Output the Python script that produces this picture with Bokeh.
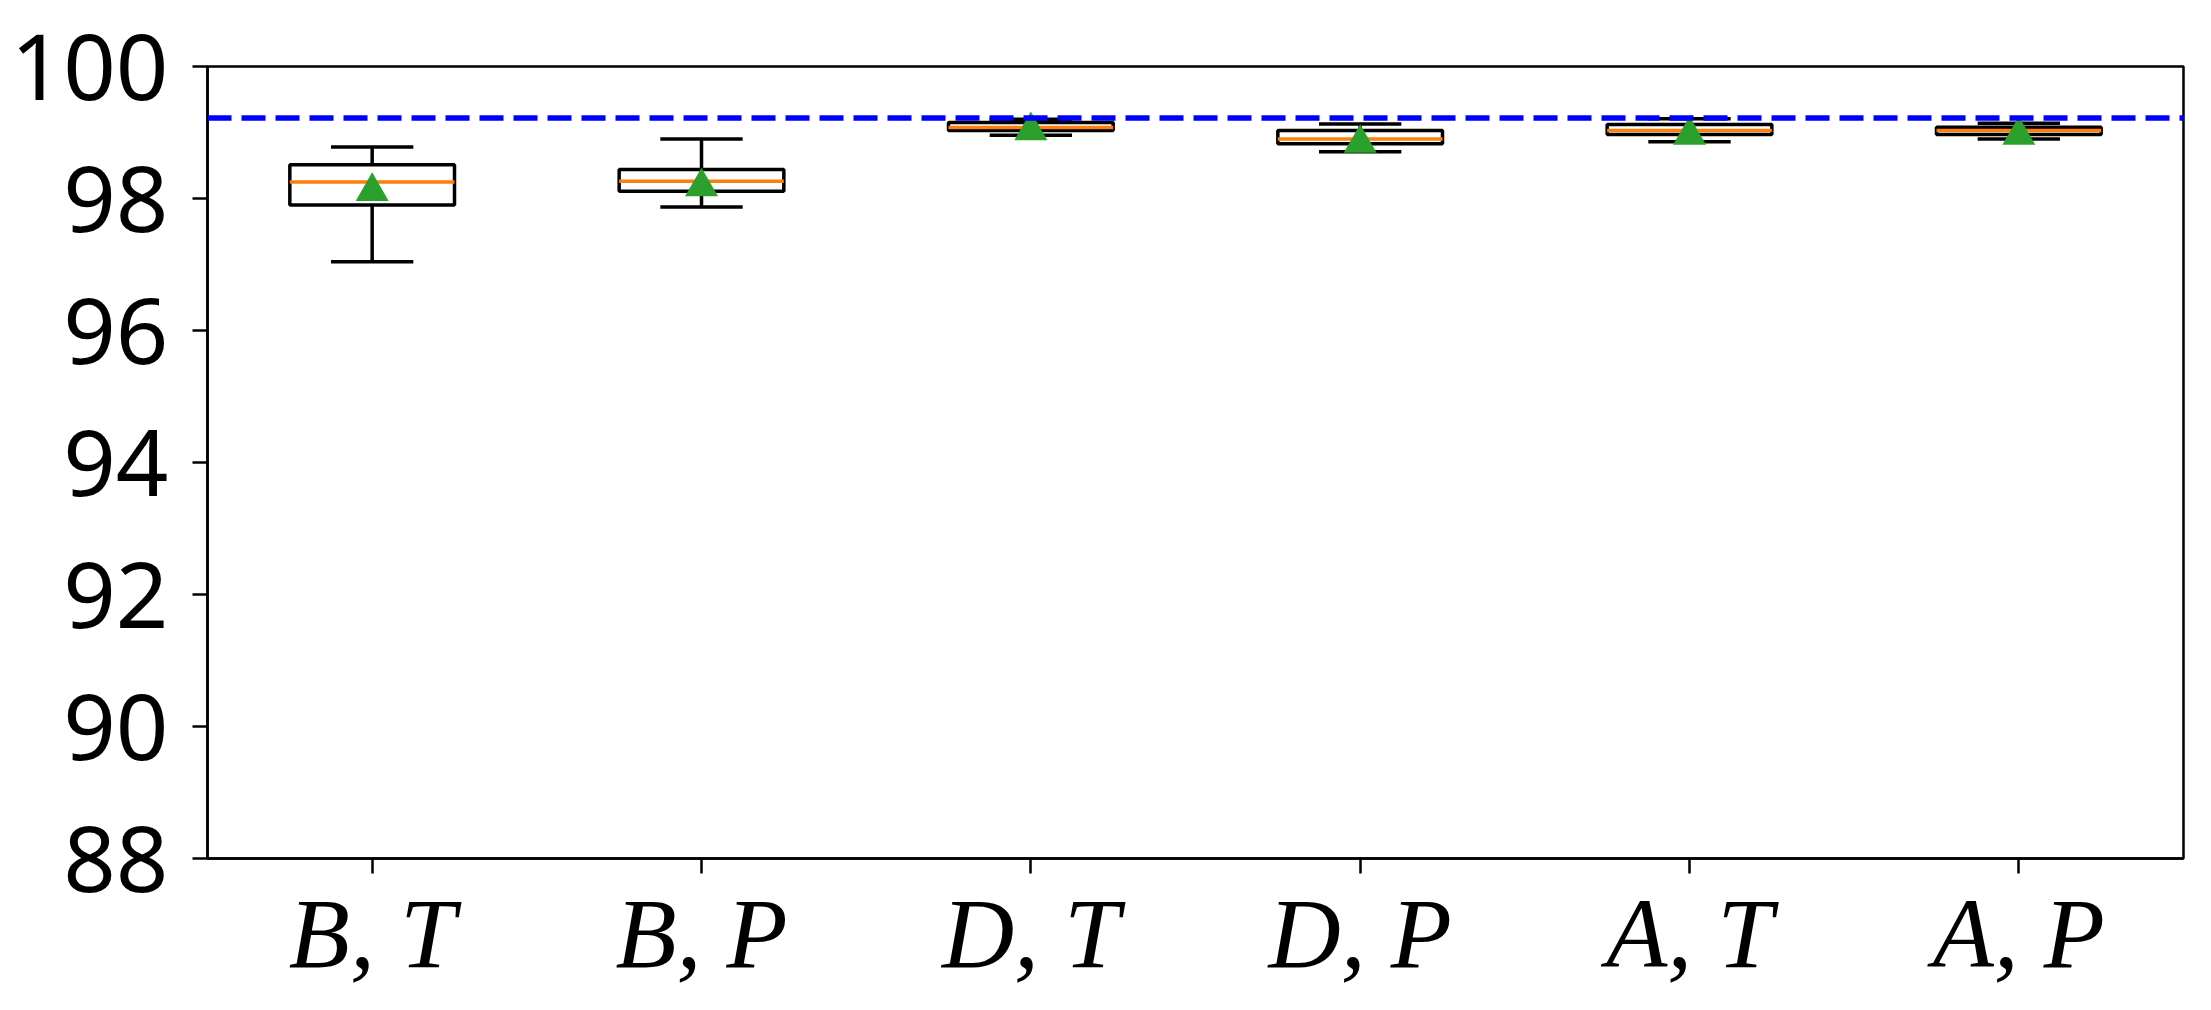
from bokeh.plotting import figure
from bokeh.models import Range1d, FixedTicker, Span, ColumnDataSource
from bokeh.transform import dodge
from bokeh.embed import file_html
from bokeh.resources import INLINE

# ---- data ----
categories = ["B, T", "B, P", "D, T", "D, P", "A, T", "A, P"]
positions = [1, 2, 3, 4, 5, 6]
whislo = [97.04, 97.87, 98.96, 98.71, 98.86, 98.90]
q1 = [97.90, 98.11, 99.03, 98.83, 98.97, 98.97]
median = [98.25, 98.26, 99.075, 98.90, 99.03, 99.03]
q3 = [98.51, 98.44, 99.15, 99.03, 99.12, 99.08]
whishi = [98.78, 98.90, 99.20, 99.13, 99.21, 99.14]
mean = [98.18, 98.25, 99.10, 98.91, 99.03, 99.03]
baseline = 99.22
y_ticks = [88, 90, 92, 94, 96, 98, 100]

box_w = 0.5
cap_w = 0.25

p = figure(width=2203, height=994, output_backend="svg", toolbar_location=None,
           x_range=Range1d(0.5, 6.5), y_range=Range1d(88, 100),
           min_border_left=207, min_border_right=20, min_border_top=66, min_border_bottom=136)
p.grid.visible = False
p.outline_line_color = "black"
p.outline_line_width = 2.5
p.background_fill_color = "white"
p.border_fill_color = "white"

# baseline
p.add_layout(Span(location=baseline, dimension="width", line_color="#0000ff",
                  line_width=5.5, line_dash="24 10"))

# boxes
lefts = [x - box_w / 2 for x in positions]
rights = [x + box_w / 2 for x in positions]
p.quad(left=lefts, right=rights, bottom=q1, top=q3, fill_color=None,
       line_color="black", line_width=3.5)
# whiskers
p.segment(x0=positions, x1=positions, y0=q3, y1=whishi, line_color="black", line_width=3.5)
p.segment(x0=positions, x1=positions, y0=q1, y1=whislo, line_color="black", line_width=3.5)
# caps
cl = [x - cap_w / 2 for x in positions]
cr = [x + cap_w / 2 for x in positions]
p.segment(x0=cl, x1=cr, y0=whishi, y1=whishi, line_color="black", line_width=3.5)
p.segment(x0=cl, x1=cr, y0=whislo, y1=whislo, line_color="black", line_width=3.5)
# medians
p.segment(x0=lefts, x1=rights, y0=median, y1=median, line_color="#ff7f0e", line_width=3.5)
# means (shift so the triangle's vertical midpoint, not its centroid, sits on the value)
mean_src = ColumnDataSource(dict(x=positions, y=mean))
p.scatter(x="x", y=dodge("y", -0.072, range=p.y_range), source=mean_src,
          marker="triangle", size=33, fill_color="#2ca02c",
          line_color="#2ca02c", line_width=0)

# axes
for ax in (p.xaxis[0], p.yaxis[0]):
    ax.axis_line_width = 2.5
    ax.major_tick_line_width = 2.5
    ax.major_tick_out = 15
    ax.major_tick_in = 0
    ax.minor_tick_out = 0
    ax.minor_tick_in = 0
    ax.major_label_text_color = "black"

p.yaxis.ticker = FixedTicker(ticks=y_ticks)
p.yaxis.major_label_text_font = "Noto Sans"
p.yaxis.major_label_text_font_size = "92px"
p.yaxis.major_label_standoff = 24

p.xaxis.ticker = FixedTicker(ticks=positions)
p.xaxis.major_label_overrides = {pos: lab for pos, lab in zip(positions, categories)}
p.xaxis.major_label_text_font = "Liberation Serif"
p.xaxis.major_label_text_font_style = "italic"
p.xaxis.major_label_text_font_size = "100px"
p.xaxis.major_label_standoff = 4

open("out.html", "w").write(file_html(p, INLINE))
